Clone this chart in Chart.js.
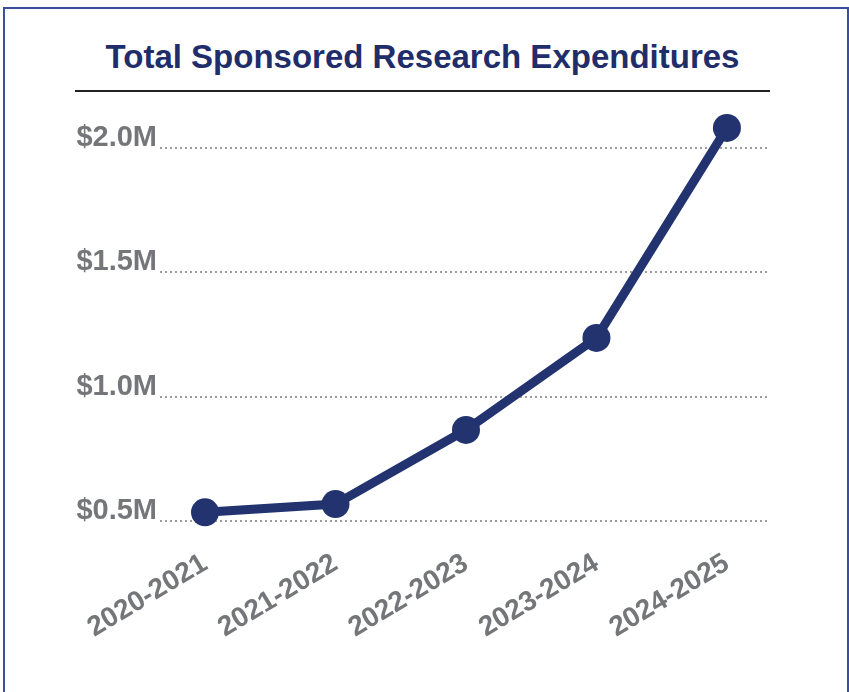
<!DOCTYPE html>
<html>
<head>
<meta charset="utf-8">
<script src="https://cdn.jsdelivr.net/npm/chart.js@4"></script>
<style>
    html, body { margin: 0; padding: 0; background: #fff; width: 849px; height: 692px; overflow: hidden; }
    #frame {
        position: absolute; left: 3px; top: 7px; width: 842px; height: 720px;
        border: 2px solid #3b4f9c; box-sizing: content-box;
    }
    #title {
        position: absolute; left: 75px; top: 35px; width: 695px; height: 55px;
        border-bottom: 2px solid #222;
        text-align: center; font-family: 'Liberation Sans', sans-serif; font-weight: bold;
        font-size: 33px; color: #1f2d6b; line-height: 44px;
    }
    #chart { position: absolute; left: 0; top: 0; }
</style>
</head>
<body>
<div id="frame"></div>
<div id="title">Total Sponsored Research Expenditures</div>
<canvas id="chart" width="849" height="692"></canvas>
<script>
// Datos
const categories = ['2020-2021', '2021-2022', '2022-2023', '2023-2024', '2024-2025'];
const expenditures = [0.535, 0.568, 0.866, 1.236, 2.08]; // millones USD
const yTicks = [0.5, 1.0, 1.5, 2.0];

const navy = '#22336f';
const gray = '#757679';

const ctx = document.getElementById('chart').getContext('2d');

new Chart(ctx, {
    type: 'line',
    data: {
        datasets: [{
            data: expenditures.map((v, i) => ({ x: i, y: v })),
            borderColor: navy,
            backgroundColor: navy,
            borderWidth: 9,
            pointRadius: 14,
            pointHoverRadius: 14,
            pointBackgroundColor: navy,
            pointBorderWidth: 0,
            tension: 0,
            clip: false
        }]
    },
    options: {
        responsive: false,
        animation: false,
        layout: {
            padding: { top: 123, right: 79, left: 0, bottom: 0 }
        },
        plugins: {
            legend: { display: false },
            tooltip: { enabled: false }
        },
        scales: {
            x: {
                type: 'linear',
                min: -0.345,
                max: 4.33,
                afterBuildTicks: scale => {
                    scale.ticks = categories.map((c, i) => ({ value: i }));
                },
                afterFit: scale => { scale.height = 692 - 521; },
                grid: { display: false },
                border: { display: false },
                ticks: {
                    autoSkip: false,
                    minRotation: 31,
                    maxRotation: 31,
                    padding: 18,
                    color: gray,
                    font: { family: 'Liberation Sans', weight: 'bold', size: 28 },
                    callback: v => categories[v]
                }
            },
            y: {
                min: 0.5,
                max: 2.1,
                afterBuildTicks: scale => {
                    scale.ticks = yTicks.map(v => ({ value: v }));
                },
                afterFit: scale => { scale.width = 160; },
                grid: {
                    color: '#9c9c9c',
                    lineWidth: 2,
                    drawTicks: false
                },
                border: { display: false, dash: [2, 3] },
                ticks: {
                    padding: 3,
                    labelOffset: -10,
                    color: gray,
                    font: { family: 'Liberation Sans', weight: 'bold', size: 29 },
                    callback: v => '$' + v.toFixed(1) + 'M'
                }
            }
        }
    }
});
</script>
</body>
</html>
